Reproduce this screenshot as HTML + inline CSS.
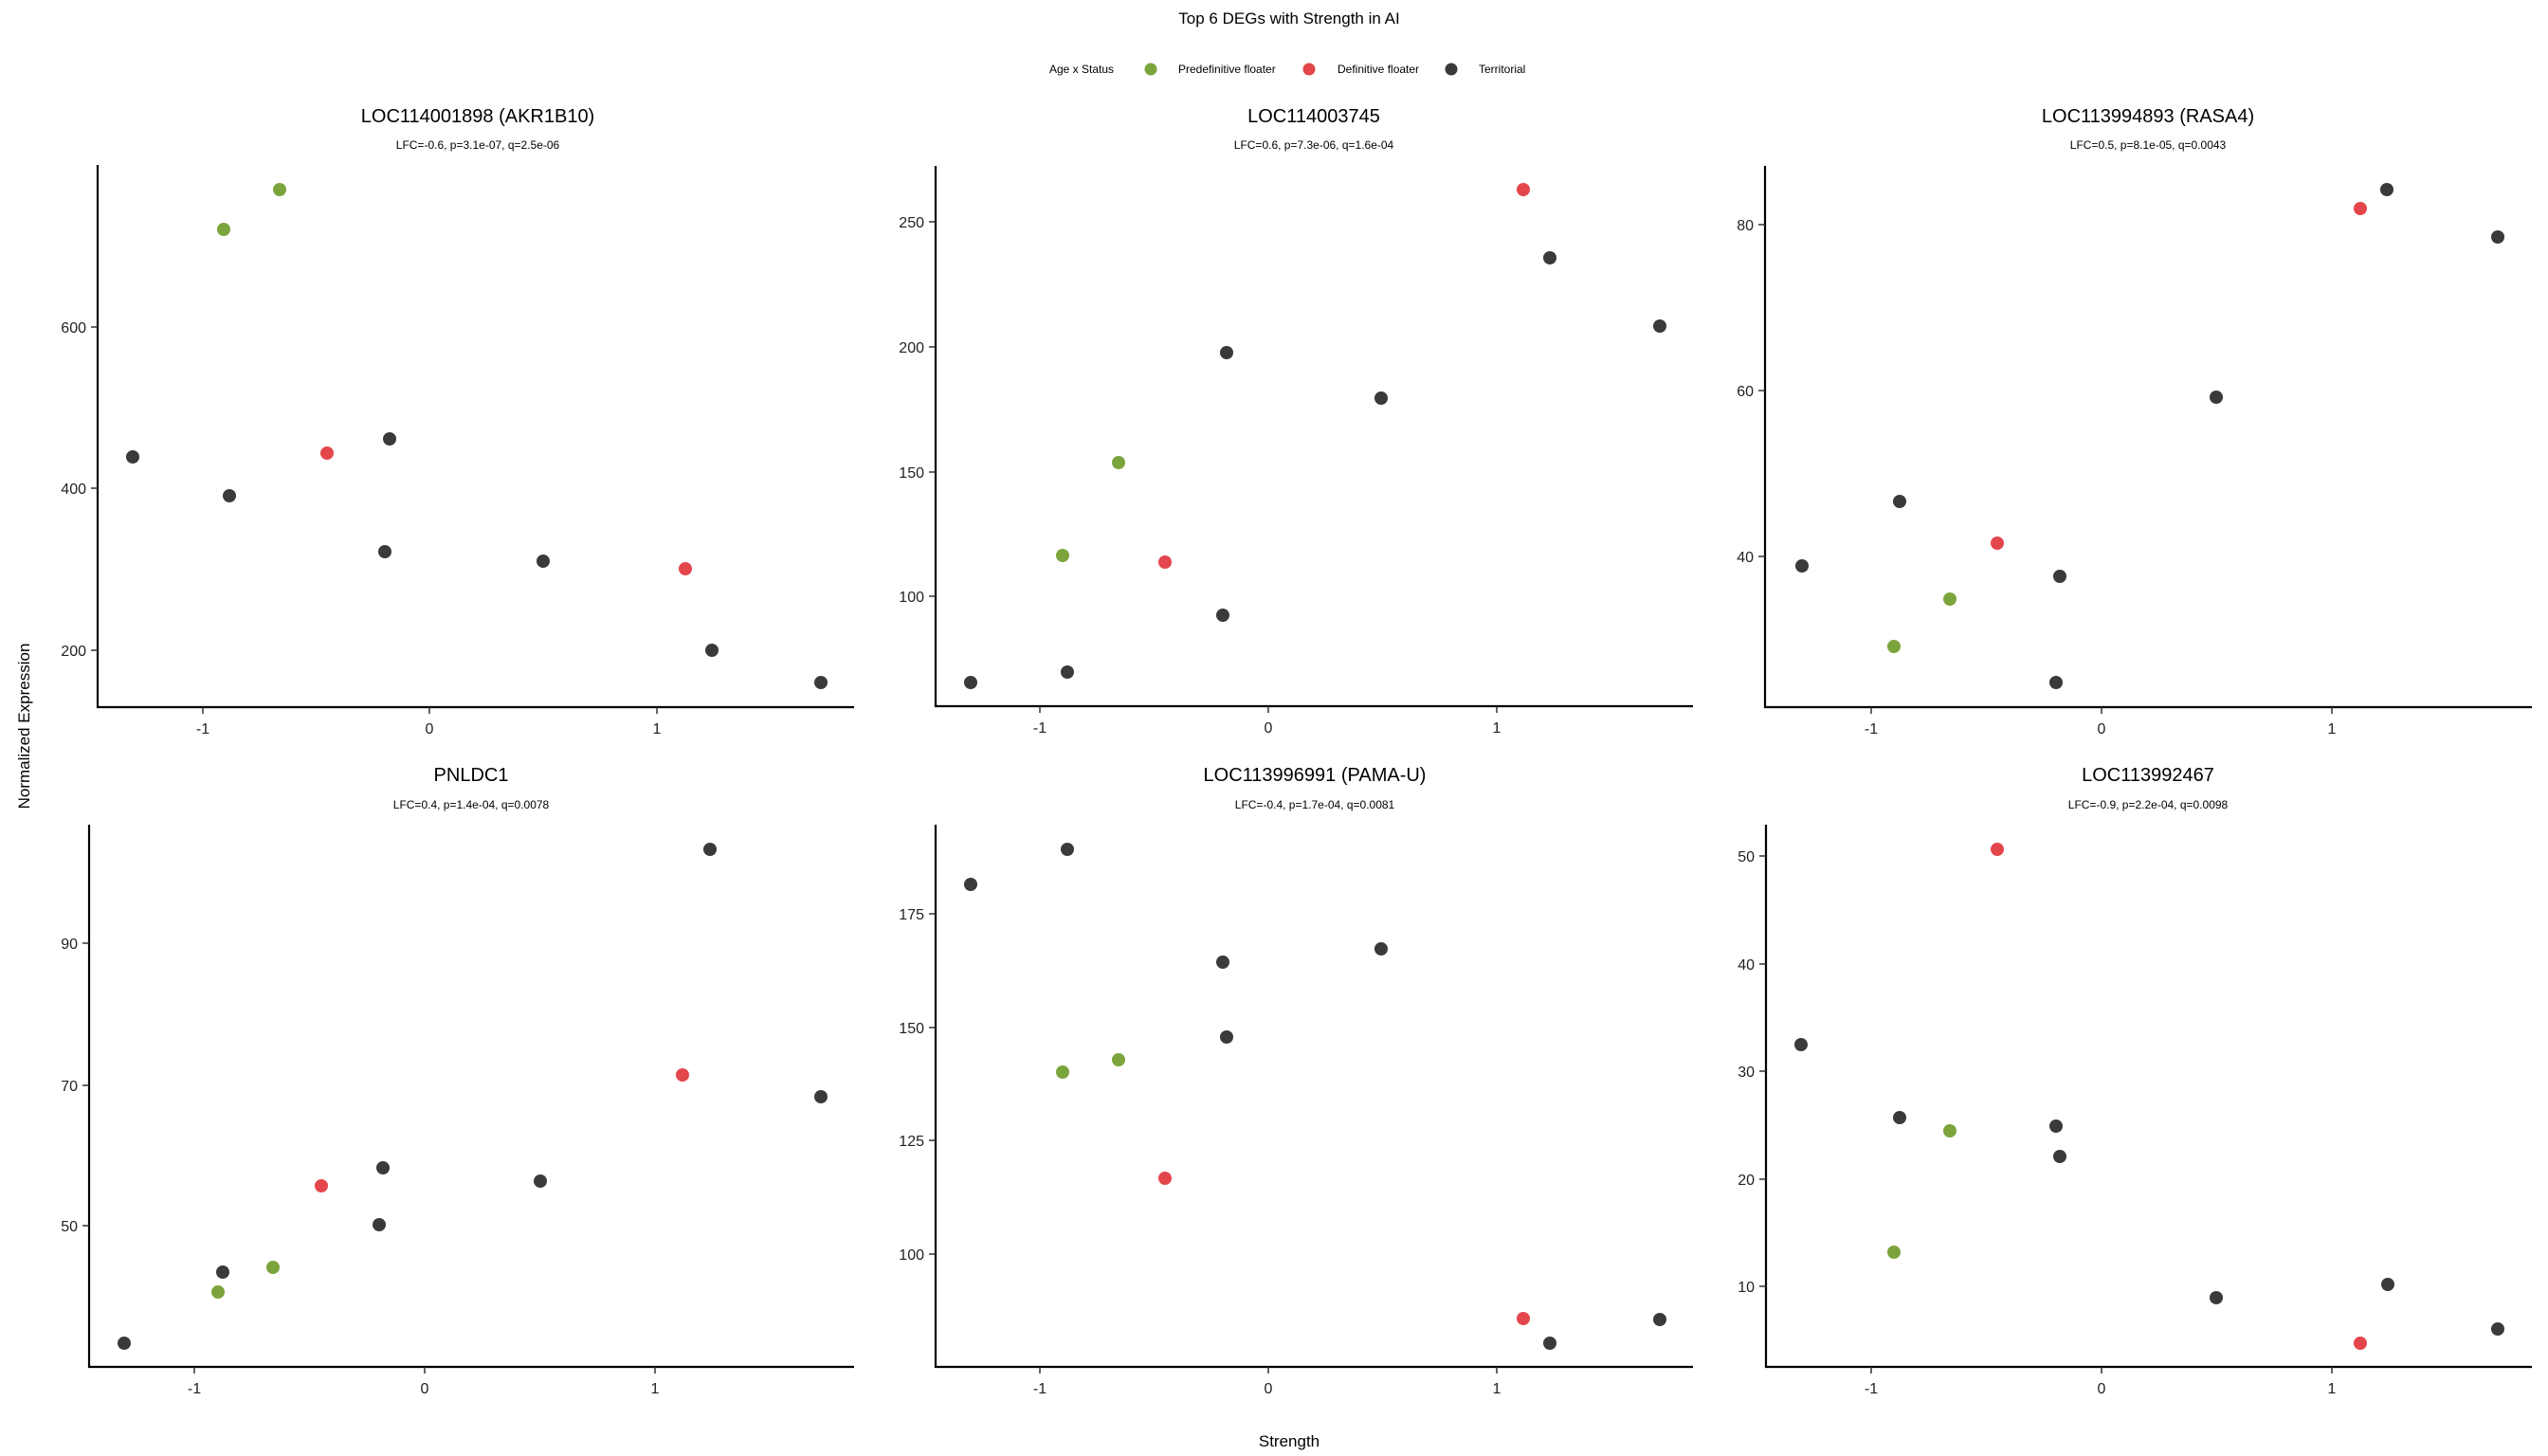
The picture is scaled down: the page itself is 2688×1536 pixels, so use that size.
<!DOCTYPE html>
<html><head><meta charset="utf-8"><style>
html,body{margin:0;padding:0;background:#fff}
svg{display:block}
text{font-family:"Liberation Sans",Arial,sans-serif;fill:#000}
.t{font-size:20px;text-anchor:middle}
.s{font-size:12px;text-anchor:middle}
.yl{font-size:16px;text-anchor:end;fill:#222}
.xl{font-size:16px;text-anchor:middle;fill:#222}
.ax{stroke:#000;stroke-width:2.2;fill:none}
.tk{stroke:#333;stroke-width:1.5}
.g{fill:#7BA43C}.r{fill:#E3464B}.d{fill:#3A3A3A}
</style></head><body>
<svg width="2688" height="1536" viewBox="0 0 2688 1536" xmlns="http://www.w3.org/2000/svg">
<rect width="2688" height="1536" fill="#fff"/>
<text x="1360" y="25" style="font-size:17px;text-anchor:middle">Top 6 DEGs with Strength in AI</text>
<text x="1107" y="77" style="font-size:12px">Age x Status</text>
<circle cx="1214" cy="73" r="6.5" class="g"/>
<text x="1243" y="77" style="font-size:12px">Predefinitive floater</text>
<circle cx="1381" cy="73" r="6.5" class="r"/>
<text x="1411" y="77" style="font-size:12px">Definitive floater</text>
<circle cx="1531" cy="73" r="6.5" class="d"/>
<text x="1560" y="77" style="font-size:12px">Territorial</text>
<text x="1360" y="1526" style="font-size:17px;text-anchor:middle">Strength</text>
<text transform="translate(31,766) rotate(-90)" style="font-size:17px;text-anchor:middle">Normalized Expression</text>

<!-- P1 -->
<text x="504" y="129" class="t">LOC114001898 (AKR1B10)</text>
<text x="504" y="157" class="s">LFC=-0.6, p=3.1e-07, q=2.5e-06</text>
<path class="ax" d="M103 174V746H901"/>
<path class="tk" d="M214 746v7M453 746v7M693 746v7M96 345h7M96 515h7M96 686h7"/>
<text x="214" y="774" class="xl">-1</text><text x="453" y="774" class="xl">0</text><text x="693" y="774" class="xl">1</text>
<text x="91" y="351" class="yl">600</text><text x="91" y="521" class="yl">400</text><text x="91" y="692" class="yl">200</text>
<circle cx="140" cy="482" r="7" class="d"/><circle cx="236" cy="242" r="7" class="g"/><circle cx="242" cy="523" r="7" class="d"/><circle cx="295" cy="200" r="7" class="g"/><circle cx="345" cy="478" r="7" class="r"/><circle cx="406" cy="582" r="7" class="d"/><circle cx="411" cy="463" r="7" class="d"/><circle cx="573" cy="592" r="7" class="d"/><circle cx="723" cy="600" r="7" class="r"/><circle cx="751" cy="686" r="7" class="d"/><circle cx="866" cy="720" r="7" class="d"/>

<!-- P2 -->
<text x="1386" y="129" class="t">LOC114003745</text>
<text x="1386" y="157" class="s">LFC=0.6, p=7.3e-06, q=1.6e-04</text>
<path class="ax" d="M987 175V745H1786"/>
<path class="tk" d="M1097 745v7M1338 745v7M1579 745v7M980 234h7M980 366h7M980 498h7M980 629h7"/>
<text x="1097" y="773" class="xl">-1</text><text x="1338" y="773" class="xl">0</text><text x="1579" y="773" class="xl">1</text>
<text x="975" y="240" class="yl">250</text><text x="975" y="372" class="yl">200</text><text x="975" y="504" class="yl">150</text><text x="975" y="635" class="yl">100</text>
<circle cx="1024" cy="720" r="7" class="d"/><circle cx="1126" cy="709" r="7" class="d"/><circle cx="1121" cy="586" r="7" class="g"/><circle cx="1180" cy="488" r="7" class="g"/><circle cx="1229" cy="593" r="7" class="r"/><circle cx="1290" cy="649" r="7" class="d"/><circle cx="1294" cy="372" r="7" class="d"/><circle cx="1457" cy="420" r="7" class="d"/><circle cx="1607" cy="200" r="7" class="r"/><circle cx="1635" cy="272" r="7" class="d"/><circle cx="1751" cy="344" r="7" class="d"/>

<!-- P3 -->
<text x="2266" y="129" class="t">LOC113994893 (RASA4)</text>
<text x="2266" y="157" class="s">LFC=0.5, p=8.1e-05, q=0.0043</text>
<path class="ax" d="M1862 175V746H2671"/>
<path class="tk" d="M1974 746v7M2217 746v7M2460 746v7M1855 237h7M1855 412h7M1855 587h7"/>
<text x="1974" y="774" class="xl">-1</text><text x="2217" y="774" class="xl">0</text><text x="2460" y="774" class="xl">1</text>
<text x="1850" y="243" class="yl">80</text><text x="1850" y="418" class="yl">60</text><text x="1850" y="593" class="yl">40</text>
<circle cx="1901" cy="597" r="7" class="d"/><circle cx="2004" cy="529" r="7" class="d"/><circle cx="1998" cy="682" r="7" class="g"/><circle cx="2057" cy="632" r="7" class="g"/><circle cx="2107" cy="573" r="7" class="r"/><circle cx="2173" cy="608" r="7" class="d"/><circle cx="2169" cy="720" r="7" class="d"/><circle cx="2338" cy="419" r="7" class="d"/><circle cx="2490" cy="220" r="7" class="r"/><circle cx="2518" cy="200" r="7" class="d"/><circle cx="2635" cy="250" r="7" class="d"/>

<!-- P4 -->
<text x="497" y="824" class="t">PNLDC1</text>
<text x="497" y="853" class="s">LFC=0.4, p=1.4e-04, q=0.0078</text>
<path class="ax" d="M94 870V1442H901"/>
<path class="tk" d="M205 1442v7M448 1442v7M691 1442v7M87 995h7M87 1145h7M87 1293h7"/>
<text x="205" y="1470" class="xl">-1</text><text x="448" y="1470" class="xl">0</text><text x="691" y="1470" class="xl">1</text>
<text x="82" y="1001" class="yl">90</text><text x="82" y="1151" class="yl">70</text><text x="82" y="1299" class="yl">50</text>
<circle cx="131" cy="1417" r="7" class="d"/><circle cx="230" cy="1363" r="7" class="g"/><circle cx="235" cy="1342" r="7" class="d"/><circle cx="288" cy="1337" r="7" class="g"/><circle cx="339" cy="1251" r="7" class="r"/><circle cx="400" cy="1292" r="7" class="d"/><circle cx="404" cy="1232" r="7" class="d"/><circle cx="570" cy="1246" r="7" class="d"/><circle cx="720" cy="1134" r="7" class="r"/><circle cx="749" cy="896" r="7" class="d"/><circle cx="866" cy="1157" r="7" class="d"/>

<!-- P5 -->
<text x="1387" y="824" class="t">LOC113996991 (PAMA-U)</text>
<text x="1387" y="853" class="s">LFC=-0.4, p=1.7e-04, q=0.0081</text>
<path class="ax" d="M987 870V1442H1786"/>
<path class="tk" d="M1097 1442v7M1338 1442v7M1579 1442v7M980 964h7M980 1084h7M980 1203h7M980 1323h7"/>
<text x="1097" y="1470" class="xl">-1</text><text x="1338" y="1470" class="xl">0</text><text x="1579" y="1470" class="xl">1</text>
<text x="975" y="970" class="yl">175</text><text x="975" y="1090" class="yl">150</text><text x="975" y="1209" class="yl">125</text><text x="975" y="1329" class="yl">100</text>
<circle cx="1024" cy="933" r="7" class="d"/><circle cx="1126" cy="896" r="7" class="d"/><circle cx="1121" cy="1131" r="7" class="g"/><circle cx="1180" cy="1118" r="7" class="g"/><circle cx="1229" cy="1243" r="7" class="r"/><circle cx="1290" cy="1015" r="7" class="d"/><circle cx="1294" cy="1094" r="7" class="d"/><circle cx="1457" cy="1001" r="7" class="d"/><circle cx="1607" cy="1391" r="7" class="r"/><circle cx="1635" cy="1417" r="7" class="d"/><circle cx="1751" cy="1392" r="7" class="d"/>

<!-- P6 -->
<text x="2266" y="824" class="t">LOC113992467</text>
<text x="2266" y="853" class="s">LFC=-0.9, p=2.2e-04, q=0.0098</text>
<path class="ax" d="M1863 870V1442H2671"/>
<path class="tk" d="M1974 1442v7M2217 1442v7M2460 1442v7M1856 903h7M1856 1017h7M1856 1130h7M1856 1244h7M1856 1357h7"/>
<text x="1974" y="1470" class="xl">-1</text><text x="2217" y="1470" class="xl">0</text><text x="2460" y="1470" class="xl">1</text>
<text x="1851" y="909" class="yl">50</text><text x="1851" y="1023" class="yl">40</text><text x="1851" y="1136" class="yl">30</text><text x="1851" y="1250" class="yl">20</text><text x="1851" y="1363" class="yl">10</text>
<circle cx="1900" cy="1102" r="7" class="d"/><circle cx="2004" cy="1179" r="7" class="d"/><circle cx="1998" cy="1321" r="7" class="g"/><circle cx="2057" cy="1193" r="7" class="g"/><circle cx="2107" cy="896" r="7" class="r"/><circle cx="2169" cy="1188" r="7" class="d"/><circle cx="2173" cy="1220" r="7" class="d"/><circle cx="2338" cy="1369" r="7" class="d"/><circle cx="2490" cy="1417" r="7" class="r"/><circle cx="2519" cy="1355" r="7" class="d"/><circle cx="2635" cy="1402" r="7" class="d"/>
</svg>
</body></html>
